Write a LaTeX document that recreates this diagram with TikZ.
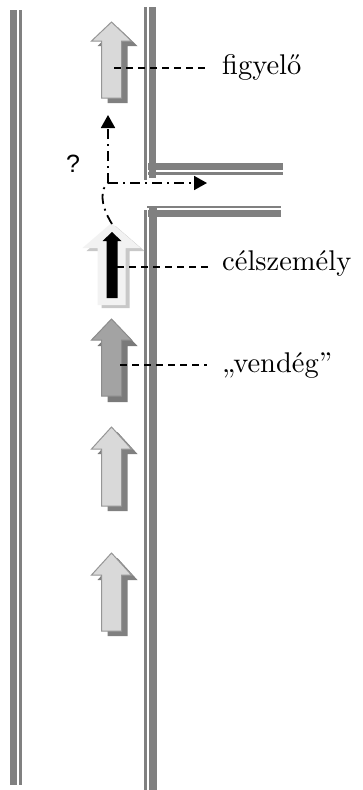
\documentclass[tikz,border=0pt]{standalone}
\usepackage{fontspec}
\newfontfamily\qfont{Liberation Sans}
\usetikzlibrary{arrows.meta}
\definecolor{wallgray}{HTML}{808080}
\definecolor{lightfill}{HTML}{D9D9D9}
\definecolor{lightedge}{HTML}{969696}
\definecolor{midfill}{HTML}{A3A3A3}
\definecolor{midedge}{HTML}{8C8C8C}
\definecolor{shadowgray}{HTML}{808080}
\definecolor{paleshadow}{HTML}{C8C8C8}
\definecolor{palefill}{HTML}{F2F2F2}
% block arrow: #1 centre x, #2 tip y, #3 length, #4 head half width, #5 head length, #6 shaft half width
\newcommand\blockarrowpath[6]{({#1-#6},{#2+#3}) -- ({#1-#6},{#2+#5}) -- ({#1-#4},{#2+#5}) -- (#1,#2) -- ({#1+#4},{#2+#5}) -- ({#1+#6},{#2+#5}) -- ({#1+#6},{#2+#3}) -- cycle}
\newcommand\biglabel[1]{\scalebox{2.85}{#1}}
\tikzset{
  wall/.style={fill=wallgray},
  leader/.style={draw=black, line width=1.2pt, dash pattern=on 7pt off 5pt},
  route/.style={draw=black, line width=1.8pt, dash pattern=on 10pt off 5pt on 2pt off 5pt, -{Triangle[length=13pt,width=14pt]}},
  lbl/.style={anchor=base west, inner sep=0pt, font=\fontsize{10}{12}\selectfont},
  grayarrow/.style={fill=lightfill, draw=lightedge, line width=1pt},
  vendarrow/.style={fill=midfill, draw=midedge, line width=1pt},
}
\begin{document}
\begin{tikzpicture}[x=1pt,y=-1pt]
\useasboundingbox[fill=white] (0,0) rectangle (363,790);
% walls
\fill[wall] (10,10) rectangle (16.5,785);
\fill[wall] (19.2,10) rectangle (21.5,785);
\fill[wall] (144,7) rectangle (146.5,180);
\fill[wall] (148.5,7) rectangle (156,178);
\fill[wall] (148,163.3) rectangle (283,170);
\fill[wall] (148,172.3) rectangle (283,175);
\fill[wall] (146.7,206) rectangle (281,208.3);
\fill[wall] (148,210) rectangle (281,216.7);
\fill[wall] (144,210) rectangle (146.5,790);
\fill[wall] (149,208.3) rectangle (156.5,790);
% figyelo arrow
\begin{scope}[shift={(6,5)}]
\fill[shadowgray] \blockarrowpath{111.5}{22}{76}{20}{19}{10};
\end{scope}
\path[grayarrow] \blockarrowpath{111.5}{22}{76}{20}{19}{10};
\coordinate (obs) at (114,68);
% celszemely arrow
\begin{scope}[shift={(4,3)}]
\fill[paleshadow] \blockarrowpath{111.5}{223}{82}{29}{25}{14};
\end{scope}
\fill[palefill] \blockarrowpath{111.5}{223}{82}{29}{25}{14};
\fill[black] \blockarrowpath{112}{232}{66}{9.5}{9}{5.5};
\coordinate (tgt) at (117,267);
\coordinate (tgttip) at (112,224);
% vendeg arrow
\begin{scope}[shift={(6,6)}]
\fill[shadowgray!95!black] \blockarrowpath{111.5}{319}{77}{20}{21}{10};
\end{scope}
\path[vendarrow] \blockarrowpath{111.5}{319}{77}{20}{21}{10};
\coordinate (gst) at (120,365);
% other arrows
\begin{scope}[shift={(6,5)}]
\fill[shadowgray] \blockarrowpath{111.5}{427}{79}{20}{22}{10};
\fill[shadowgray] \blockarrowpath{111.5}{553}{78}{20}{22}{10};
\end{scope}
\path[grayarrow] \blockarrowpath{111.5}{427}{79}{20}{22}{10};
\path[grayarrow] \blockarrowpath{111.5}{553}{78}{20}{22}{10};
% labels
\node[lbl] (lobs) at (222,74) {\biglabel{figyelő}};
\node[lbl] (ltgt) at (222,270) {\biglabel{célszemély}};
\node[lbl] (lgst) at (222,372) {\biglabel{„vendég”}};
\draw[leader] (obs) -- ([xshift=-15pt]obs -| lobs.west);
\draw[leader] (tgt) -- ([xshift=-14pt]tgt -| ltgt.west);
\draw[leader] (gst) -- ([xshift=-15pt]gst -| lgst.west);
% route
\coordinate (junc) at (108,183);
\coordinate (up) at (108,115);
\coordinate (right) at (207,183);
\draw[route, -] (tgttip) .. controls (99,203) and (101,188) .. (junc);
\draw[route] (junc) -- (up);
\draw[route] (junc) -- (right);
\node[font=\qfont\fontsize{25}{27}\selectfont] (q) at (73,164) {?};
\end{tikzpicture}
\end{document}
